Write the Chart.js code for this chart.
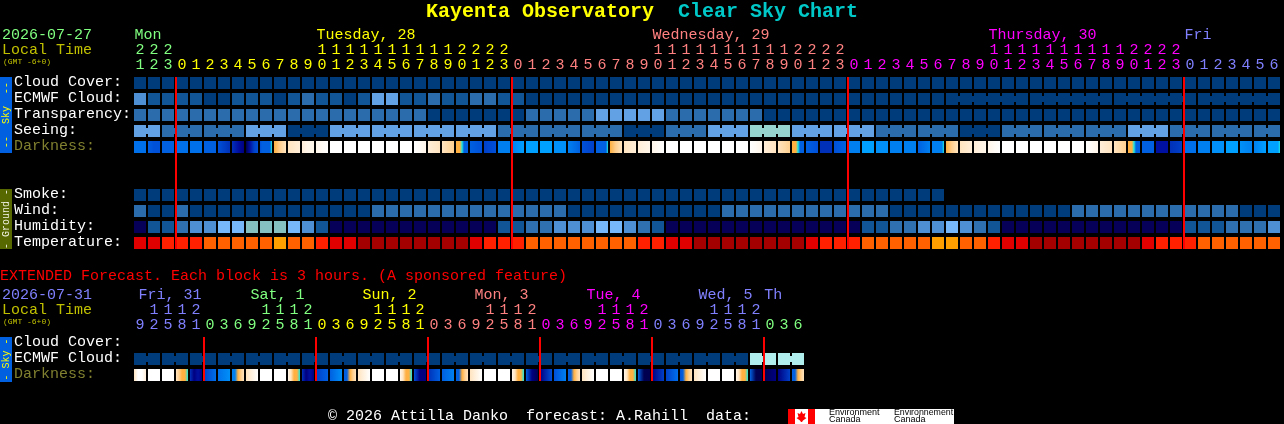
<!DOCTYPE html>
<html><head><meta charset="utf-8">
<style>
html,body{margin:0;padding:0;background:#000;width:1284px;height:424px;overflow:hidden}
canvas{position:absolute;left:0;display:block}
#a{top:0}#b{top:262px}
</style>
<script src="https://cdn.jsdelivr.net/npm/chart.js@4"></script>
</head><body>
<canvas id="a" width="1284" height="262"></canvas>
<canvas id="b" width="1284" height="162"></canvas>
<script>
/* ---------- text ---------- */
const titleName = "Kayenta Observatory";
const titleRest = "Clear Sky Chart";
const extendedNote = "EXTENDED Forecast. Each block is 3 hours. (A sponsored feature)";
const footerText = "© 2026 Attilla Danko  forecast: A.Rahill  data:";
const rowLabels = ["Cloud Cover:","ECMWF Cloud:","Transparency:","Seeing:","Darkness:","","","Smoke:","Wind:","Humidity:","Temperature:"];
const extRowLabels = ["Cloud Cover:","ECMWF Cloud:","Darkness:"];

/* ---------- time axes ---------- */
const hours = [21,22,23,0,1,2,3,4,5,6,7,8,9,10,11,12,13,14,15,16,17,18,19,20,21,22,23,
  0,1,2,3,4,5,6,7,8,9,10,11,12,13,14,15,16,17,18,19,20,21,22,23,
  0,1,2,3,4,5,6,7,8,9,10,11,12,13,14,15,16,17,18,19,20,21,22,23,
  0,1,2,3,4,5,6];
const dayNames = ["Mon","Tuesday, 28","Wednesday, 29","Thursday, 30","Fri"];
const dayLabelCols = [0,13,37,61,75];
const dayStartCols = [0,3,27,51,75];
const dayColors = ["#80ff80","#ffff00","#ff8080","#ff00ff","#8080ff"];
const midnights = [3,27,51,75];

const extHours = [9,12,15,18,21,0,3,6,9,12,15,18,21,0,3,6,9,12,15,18,21,0,3,6,9,12,15,18,21,0,3,6,9,12,15,18,21,0,3,6,9,12,15,18,21,0,3,6];
const extDayNames = ["Fri, 31","Sat, 1","Sun, 2","Mon, 3","Tue, 4","Wed, 5","Th"];
const extDayLabelCols = [0,8,16,24,32,40,44.7];
const extDayStartCols = [0,5,13,21,29,37,45];
const extDayColors = ["#8080ff","#80ff80","#ffff00","#ff8080","#ff00ff","#8080ff","#80ff80"];
const extMidnights = [5,13,21,29,37,45];

/* ---------- forecast levels ---------- */
const cloudCover = [0,0,0,0,0,0,0,0,0,0,0,0,0,0,0,0,0,0,0,0,0,0,0,0,0,0,0,0,0,0,0,0,0,0,0,0,0,0,0,0,0,0,0,0,0,0,0,0,0,0,0,0,0,0,0,0,0,0,0,0,0,0,0,0,0,0,0,0,0,0,0,0,0,0,0,0,0,0,0,0,0,0];
const ecmwfCloud = [3,1,1,1,1,0,0,1,1,1,0,1,2,1,1,0,1,4,4,1,1,2,1,1,2,2,1,1,0,0,0,0,0,0,0,0,0,0,0,0,0,0,0,0,0,0,0,0,0,0,0,0,0,0,0,0,0,0,0,0,0,0,0,0,0,0,0,0,0,0,0,0,0,0,0,0,0,0,0,0,0,0];
const ecmwfGroups = [1,1,1,1,1,1,1,1,1,1,1,1,1,1,1,1,1,1,1,1,1,1,1,1,1,1,1,1,1,1,1,1,1,1,1,1,1,1,1,1,1,1,1,1,1,1,1,1,1,1,1,1,1,1,1,1,1,1,6,6,6,6];
const transparency = [2,2,2,2,2,2,2,2,2,2,2,2,2,2,2,2,2,2,2,2,2,0,0,0,0,0,0,0,2,2,2,2,2,4,4,4,4,4,2,2,2,2,2,2,2,0,0,0,0,0,0,0,0,0,0,0,0,0,0,0,0,0,0,0,0,0,0,0,0,0,0,0,0,0,0,0,0,0,0,0,0,0];
const seeing = [4,4,2,2,2,2,2,2,4,4,4,0,0,0,4,4,4,4,4,4,4,4,4,4,4,4,2,2,2,2,2,2,2,2,2,0,0,0,2,2,2,4,4,4,6,6,6,4,4,4,4,4,4,2,2,2,2,2,2,0,0,0,2,2,2,2,2,2,2,2,2,4,4,4,2,2,2,2,2,2,2,2];
const seeingGroups = [2,3,3,3,3,3,3,3,3,3,3,3,3,3,3,3,3,3,3,3,3,3,3,3,3,3,3,2];
const smoke = [0,0,0,0,0,0,0,0,0,0,0,0,0,0,0,0,0,0,0,0,0,0,0,0,0,0,0,0,0,0,0,0,0,0,0,0,0,0,0,0,0,0,0,0,0,0,0,0,0,0,0,0,0,0,0,0,0,0];
const wind = [2,0,0,2,0,0,0,0,0,0,0,0,0,0,0,0,0,2,2,2,2,2,2,2,2,2,2,2,2,2,2,0,0,0,0,0,0,0,0,0,0,0,2,2,2,2,2,2,2,2,2,2,2,2,0,0,0,0,0,0,0,0,0,0,0,0,0,2,2,2,2,2,2,2,2,2,2,2,2,0,0,0];
const humidity = [0,1,1,2,3,3,4,4,5,5,5,4,3,1,0,0,0,0,0,0,0,0,0,0,0,0,1,1,2,2,3,3,3,4,4,3,2,1,0,0,0,0,0,0,0,0,0,0,0,0,0,0,1,1,2,2,3,3,4,3,2,1,0,0,0,0,0,0,0,0,0,0,0,0,0,1,1,1,2,2,2,3];
const temperature = [1,1,2,2,2,3,3,3,3,3,4,3,3,2,1,1,0,0,0,0,0,0,0,0,1,2,2,2,3,3,3,3,3,3,3,3,2,2,1,1,0,0,0,0,0,0,0,0,1,2,2,2,3,3,3,3,3,4,4,3,3,2,1,1,0,0,0,0,0,0,0,0,1,2,2,2,3,3,3,3,3,3];
/* darkness: sky brightness level sampled across each block */
const darkness = [[10,10],[11,12,12],[11,11],[10,10],[10,10],[11,11],[12,14],[14,15,16],[17,15,13,12],[12,11,11,11,11,11,6],
  [5,4,3],[3,2],[2,1,1],[1,0],[0,0],[0,0],[0,0],[0,0],[0,0],[0,0],[0,1],[2,3],[3,4],[5,5,5,6,11,11,11],[11,12],[13,12],[9,9],
  [9,7],[7,7],[7,7],[8,8],[9,11],[12,13],[11,11,11,11,11,11,6],[5,4,3],[3,2],[2,1],[1,0],[0,0],[0,0],[0,0],[0,0],[0,0],[0,0],[0,1],[2,3],[3,4],[5,5,5,6,11,11,11],[11,12],[14,14],[12,11],
  [9,9],[7,7],[8,8],[9,9],[9,9],[11,9],[9,9,9,9,9,9,6],[5,4,3],[3,2],[2,1],[1,0],[0,0],[0,0],[0,0],[0,0],[0,0],[0,0],[0,1],[2,3],[3,4],[5,5,5,6,11,11,11],[11,11],[15,15],[14,13],
  [10,10],[9,9],[8,8],[7,7],[8,9],[9,7],[7,7,7,7,7,7,6]];

const extCloudCover = [];
const extEcmwfCloud = [0,0,0,0,0,0,0,0,0,0,0,0,0,0,0,0,0,0,0,0,0,0,0,0,0,0,0,0,0,0,0,0,0,0,0,0,0,0,0,0,0,0,0,0,7,7,7,7];
const extEcmwfGroups = [2,2,2,2,2,2,2,2,2,2,2,2,2,2,2,2,2,2,2,2,2,2,2,2];
const extDarkness = [[3,0,0,2],[0,0],[0,0],[3,4,5,5,6],[14,16,15,16],[13,10],[10,8],[9,9,5,4,3],[3,0],[0,0],[0,0],[1,3,5,5,6],[14,16,15,16],[13,11],[11,8],[11,11,5,4,3],[3,0],[0,0],[0,0],[1,3,5,5,6],[12,16,16],[14,11],[11,9],[11,11,5,4,3],[3,0],[0,0],[0,0],[1,3,5,5,6],[11,16,17],[16,12],[12,9],[11,11,5,4,3],[3,0],[0,0],[0,0],[1,3,5,5,6],[11,17,17],[16,13],[13,10],[12,11,5,4,3],[3,0],[0,0],[0,0],[1,3,5,5,6],[11,17,17],[17,16],[16,13],[11,11,5,4,3]];

/* ---------- colours ---------- */
const skyColors = ["#003c7c","#115596","#2a6cac","#4d8fd2","#62a2e4","#76b8fa","#96d4d0","#b0eeee"];
const humidityColors = ["#070058","#115596","#2f70b0","#4d8fd2","#76b8fa","#85c1c1"];
const temperatureColors = ["#a50000","#e00000","#ff2000","#ff6000","#ffa000"];
const darknessColors = ["#ffffff","#fff6ea","#ffeed8","#ffe4c0","#ffd090","#ffb040","#20e8e0","#00a0ff","#0090f8","#0080f0","#0070ea","#0060e0","#0050d8","#0040c8","#0030b8","#0010a0","#000080","#000050"];

const MONO = "'Liberation Mono', monospace";
const HALF = 0.375, NOTCH = 0.1875;

function cells(row, values, colors){
  return {grouped:false, barThickness:12, inflateAmount:0, xAxisID:'x', yAxisID:'y',
    data: values.map(() => [row-HALF, row+HALF]),
    backgroundColor: values.map(v => colors[v])};
}
function shadedCells(row, samples){
  return {grouped:false, barThickness:12, inflateAmount:0, xAxisID:'x', yAxisID:'y',
    data: samples.map(() => [row-HALF, row+HALF]),
    backgroundColor: c => {
      const s = samples[c.dataIndex];
      const x = c.chart.scales.x ? c.chart.scales.x.getPixelForValue(c.dataIndex) : NaN;
      if (!s || !Number.isFinite(x)) return '#000000';
      const g = c.chart.ctx.createLinearGradient(x-6,0,x+6,0);
      s.forEach((v,i) => g.addColorStop(i/(s.length-1), darknessColors[v]));
      return g;
    }};
}
function bridges(row, values, colors, groups){
  const pts = [], cols = [];
  let c = 0;
  groups.forEach(n => {
    for (let k=0;k<n-1;k++){ pts.push({x:c+k+0.5, y:[row-NOTCH,row+NOTCH]}); cols.push(colors[values[c+k]]); }
    c += n;
  });
  return {grouped:false, barThickness:2, inflateAmount:0, xAxisID:'xj', yAxisID:'y', data:pts, backgroundColor:cols};
}
function dayLines(marks, top, bottom){
  return {grouped:false, barThickness:2, inflateAmount:0, xAxisID:'xj', yAxisID:'y',
    data: marks.map(d => ({x:d-6/14, y:[top-HALF,bottom+HALF]})), backgroundColor:'#ff0000'};
}
function tickLabel(h){ return [h>=10 ? String(h)[0] : '', String(h%10)]; }
function colorAt(starts, colors, i){ let k=0; starts.forEach((s,j)=>{ if(i>=s) k=j; }); return colors[k]; }

function scalesFor(hourList, starts, colors, labels, nRows, topH){
  return {
    x:{type:'category', position:'top', offset:true,
       grid:{display:false, drawTicks:false}, border:{display:false},
       ticks:{autoSkip:false, maxRotation:0, minRotation:0, padding:2,
              font:{family:MONO,size:15,lineHeight:'15px'},
              color:c => colorAt(starts,colors,c.index)},
       afterFit:s => { s.height = topH; }},
    xj:{type:'linear', display:false, offset:false, min:-0.5, max:hourList.length-0.5, position:'top'},
    y:{type:'linear', reverse:true, min:-0.5, max:nRows-0.5,
       grid:{display:false, drawTicks:false}, border:{display:false},
       afterBuildTicks:s => { s.ticks = labels.map((_,i)=>({value:i})); },
       ticks:{autoSkip:false, crossAlign:'far', padding:0, labelOffset:-1,
              font:{family:MONO,size:15},
              color:c => (labels[c.index]==='Darkness:' ? '#808030' : '#ffffff'),
              callback:v => labels[v]},
       afterFit:s => { s.width = 119; }}
  };
}
function text(ctx, str, x, y, color, font){
  ctx.fillStyle = color; ctx.font = font; ctx.textAlign='left'; ctx.textBaseline='middle';
  ctx.fillText(str, x, y);
}
function sideTab(ctx, y0, y1, fill, label, color){
  ctx.fillStyle = fill; ctx.fillRect(0,y0,12,y1-y0);
  ctx.save(); ctx.translate(6,(y0+y1)/2); ctx.rotate(-Math.PI/2);
  ctx.fillStyle=color; ctx.font="10px "+MONO; ctx.textAlign='center'; ctx.textBaseline='middle';
  ctx.fillText(label,0,0); ctx.restore();
}
function dayHeaders(ch, names, cols, starts, colors, y, shift){
  const sx = ch.scales.x;
  names.forEach((n,i) => text(ch.ctx, n, sx.getPixelForValue(0)+14*cols[i]+shift, y, colorAt(starts,colors,cols[i]), "15px "+MONO));
}
function timeHeader(ctx, date, dateColor, yShift){
  text(ctx, date, 2, 35+yShift, dateColor, "15px "+MONO);
  text(ctx, "Local Time", 2, 50+yShift, "#c0c000", "15px "+MONO);
  text(ctx, "(GMT -6+0)", 3, 62+yShift, "#c0c000", "8px "+MONO);
}

const topLayer = {id:'topLayer', afterDraw(ch){
  const c = ch.ctx;
  text(c, titleName, 426, 12, "#ffff00", "bold 20px "+MONO);
  text(c, titleRest, 678, 12, "#00c8c8", "bold 20px "+MONO);
  timeHeader(c, "2026-07-27", "#80ff80", 0);
  dayHeaders(ch, dayNames, dayLabelCols, dayStartCols, dayColors, 35, -5.5);
  sideTab(c, 77, 153, "#0060e0", "--  Sky  --", "#ffff00");
  sideTab(c, 189, 249, "#586800", "- Ground -", "#f0f0e0");
}};
const lowLayer = {id:'lowLayer', afterDraw(ch){
  const c = ch.ctx;
  text(c, extendedNote, 0, 14, "#ff0000", "15px "+MONO);
  timeHeader(c, "2026-07-31", "#8080ff", -2);
  dayHeaders(ch, extDayNames, extDayLabelCols, extDayStartCols, extDayColors, 33, -1.5);
  sideTab(c, 75, 120, "#0060e0", "- Sky -", "#ffff00");
  text(c, footerText, 328, 154, "#ffffff", "15px "+MONO);
  /* logo */
  c.fillStyle="#ffffff"; c.fillRect(788,147,166,15);
  c.fillStyle="#ff0000"; c.fillRect(788,147,7,15); c.fillRect(808,147,7,15);
  c.beginPath();
  [[801.5,149],[803,152],[805.5,151],[804.5,155],[806.5,156],[803,158.5],[802,160],[801,160],[800,158.5],[796.5,156],[798.5,155],[797.5,151],[800,152]]
    .forEach((p,i)=> i?c.lineTo(p[0],p[1]):c.moveTo(p[0],p[1]));
  c.closePath(); c.fill();
  text(c,"Environment",829,151,"#000000","9px 'Liberation Sans'");
  text(c,"Canada",829,158,"#000000","9px 'Liberation Sans'");
  text(c,"Environnement",894,151,"#000000","8.8px 'Liberation Sans'");
  text(c,"Canada",894,158,"#000000","9px 'Liberation Sans'");
}};

const base = {responsive:false, animation:false, devicePixelRatio:1, events:[],
  plugins:{legend:{display:false}, tooltip:{enabled:false}, title:{display:false}}};

new Chart(document.getElementById('a'), {
  type:'bar', plugins:[topLayer],
  data:{labels:hours.map(tickLabel), datasets:[
    dayLines(midnights,0,10),
    bridges(1,ecmwfCloud,skyColors,ecmwfGroups),
    bridges(3,seeing,skyColors,seeingGroups),
    cells(0,cloudCover,skyColors),
    cells(1,ecmwfCloud,skyColors),
    cells(2,transparency,skyColors),
    cells(3,seeing,skyColors),
    shadedCells(4,darkness),
    cells(7,smoke,skyColors),
    cells(8,wind,skyColors),
    cells(9,humidity,humidityColors),
    cells(10,temperature,temperatureColors)
  ]},
  options:{...base, layout:{padding:{left:14,right:3,top:0,bottom:11}},
    scales:scalesFor(hours,dayStartCols,dayColors,rowLabels,11,75)}
});

new Chart(document.getElementById('b'), {
  type:'bar', plugins:[lowLayer],
  data:{labels:extHours.map(tickLabel), datasets:[
    dayLines(extMidnights,0,2),
    bridges(1,extEcmwfCloud,skyColors,extEcmwfGroups),
    cells(0,extCloudCover,skyColors),
    cells(1,extEcmwfCloud,skyColors),
    shadedCells(2,extDarkness)
  ]},
  options:{...base, layout:{padding:{left:14,right:1284-805,top:0,bottom:41}},
    scales:scalesFor(extHours,extDayStartCols,extDayColors,extRowLabels,3,73)}
});
</script>
</body></html>
